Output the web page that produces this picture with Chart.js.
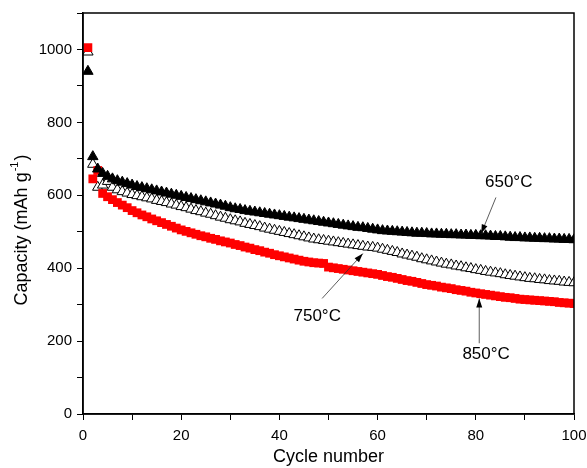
<!DOCTYPE html>
<html>
<head>
<meta charset="utf-8">
<script src="https://cdn.jsdelivr.net/npm/chart.js@4/dist/chart.umd.min.js"></script>
<style>
html,body{margin:0;padding:0;background:#fff;}
#wrap{width:587px;height:468px;position:relative;}
</style>
</head>
<body>
<div id="wrap"><canvas id="c" width="587" height="468"></canvas></div>
<script>
// Cycle numbers (x categories)
const cycles = Array.from({length: 100}, (_, i) => i + 1);

// Capacity (mAh g-1) for each sintering temperature
const cap650 = [940,706,672,660,652,645,640,636,632,628,
 624,621,618,615,612,609,606,603,600,597,
 594,591,588,585,582,579,576,573,570,566,
 563,561,558,556,554,552,550,548,546,544,
 542,540,538,536,534,532,530,528,526,524,
 522,520,518,516,514,512,511,509,507,505,
 503,502,501,500,499,498,497,496,496,495,
 494,494,493,493,492,492,491,491,490,490,
 489,489,488,487,487,486,485,484,484,483,
 483,482,482,481,481,480,480,479,479,478];

const cap750 = [993,685,622,628,638,622,615,610,606,602,
 599,596,593,590,586,583,580,576,573,569,
 566,562,558,555,551,548,544,540,537,533,
 530,527,523,520,517,514,510,507,504,501,
 498,495,492,489,486,483,480,478,476,474,
 472,470,468,466,464,462,460,458,457,455,
 452,449,446,443,439,436,433,430,426,423,
 420,417,414,411,409,406,404,401,399,396,
 394,391,389,387,385,382,380,378,376,374,
 372,371,369,368,366,365,364,362,361,360];

const cap850 = [1005,645,668,605,596,588,580,573,566,558,
 552,546,541,535,530,525,520,515,510,505,
 501,497,493,489,486,482,479,475,472,469,
 465,462,458,455,451,448,444,441,437,434,
 431,428,425,422,419,417,415,414,413,403,
 401,399,397,395,393,391,389,387,385,383,
 380,377,375,372,369,366,364,361,358,355,
 353,351,348,346,344,341,339,337,334,332,
 330,328,326,324,322,320,319,317,315,314,
 313,312,311,310,309,308,306,305,304,303];

const xTickLabels = [0,20,40,60,80,100];
const yTickLabels = [0,200,400,600,800,1000];

// Annotation labels and arrows (data units)
const annLabels = ["650°C","750°C","850°C"];
const annLabelPos = [[86.7,635],[47.7,268],[82.1,164]];
const annArrowTail = [[84.1,594],[48.7,317],[80.7,194]];
const annArrowHead = [[81.1,495],[57.0,440],[80.7,317]];

const toPts = arr => arr.map((v, i) => ({x: cycles[i], y: v}));
const FONT = "'Liberation Sans', Arial, sans-serif";

const framePlugin = {
  id: 'frame',
  afterDatasetsDraw(chart) {
    const {ctx, chartArea: a, scales} = chart;
    ctx.save();
    ctx.strokeStyle = '#000';
    ctx.lineWidth = 1.5;
    ctx.strokeRect(a.left, a.top, a.right - a.left, a.bottom - a.top);
    // annotations
    ctx.fillStyle = '#000';
    ctx.font = "17px " + FONT;
    ctx.textAlign = 'center';
    ctx.textBaseline = 'middle';
    for (let i = 0; i < annLabels.length; i++) {
      const lx = scales.x.getPixelForValue(annLabelPos[i][0]);
      const ly = scales.y.getPixelForValue(annLabelPos[i][1]);
      ctx.fillText(annLabels[i], lx, ly);
      const tx = scales.x.getPixelForValue(annArrowTail[i][0]);
      const ty = scales.y.getPixelForValue(annArrowTail[i][1]);
      const hx = scales.x.getPixelForValue(annArrowHead[i][0]);
      const hy = scales.y.getPixelForValue(annArrowHead[i][1]);
      ctx.lineWidth = 0.8;
      ctx.strokeStyle = '#333';
      ctx.beginPath(); ctx.moveTo(tx, ty); ctx.lineTo(hx, hy); ctx.stroke();
      const ang = Math.atan2(hy - ty, hx - tx);
      const L = 9, W = 3;
      ctx.beginPath();
      ctx.moveTo(hx, hy);
      ctx.lineTo(hx - L*Math.cos(ang) + W*Math.sin(ang), hy - L*Math.sin(ang) - W*Math.cos(ang));
      ctx.lineTo(hx - L*Math.cos(ang) - W*Math.sin(ang), hy - L*Math.sin(ang) + W*Math.cos(ang));
      ctx.closePath();
      ctx.fill();
    }
    // Y axis title with superscript
    ctx.translate(22, 231);
    ctx.rotate(-Math.PI / 2);
    ctx.textAlign = 'left';
    ctx.textBaseline = 'middle';
    const main = "Capacity (mAh g";
    const sup = "-1";
    const tail = ")";
    ctx.font = "18px " + FONT;
    const w1 = ctx.measureText(main).width;
    const w3 = ctx.measureText(tail).width;
    ctx.font = "11px " + FONT;
    const w2 = ctx.measureText(sup).width;
    let x0 = -(w1 + w2 + w3) / 2;
    ctx.font = "18px " + FONT;
    ctx.fillText(main, x0, 0);
    ctx.font = "11px " + FONT;
    ctx.fillText(sup, x0 + w1 + 1, -7);
    ctx.font = "18px " + FONT;
    ctx.fillText(tail, x0 + w1 + w2 + 2, 0);
    ctx.restore();
  }
};

new Chart(document.getElementById('c'), {
  type: 'scatter',
  data: {
    datasets: [
      {label: '650°C', data: toPts(cap650), pointStyle: 'triangle', pointRadius: 6,
       backgroundColor: '#000', borderColor: '#000', borderWidth: 1},
      {label: '850°C', data: toPts(cap850), pointStyle: 'rect', pointRadius: 6.2,
       backgroundColor: '#ff0000', borderColor: '#ff0000', borderWidth: 0},
      {label: '750°C', data: toPts(cap750), pointStyle: 'triangle', pointRadius: 6,
       backgroundColor: '#fff', borderColor: '#000', borderWidth: 1}
    ]
  },
  options: {
    responsive: false,
    animation: false,
    events: [],
    layout: {padding: {left: 0, right: 0, top: 13, bottom: 0}},
    plugins: {legend: {display: false}, tooltip: {enabled: false}},
    scales: {
      x: {
        type: 'linear', min: 0, max: 100,
        afterFit: s => { s.height = 54; s.paddingRight = 13; s.paddingLeft = 0; },
        border: {display: true, color: '#000', width: 1.5},
        grid: {drawOnChartArea: false, drawTicks: true, tickLength: 6, color: '#000', lineWidth: 1},
        ticks: {stepSize: 10, color: '#000', padding: 7, maxRotation: 0,
          font: {family: FONT, size: 15},
          callback: v => xTickLabels.includes(v) ? String(v) : ''},
        title: {display: true, text: 'Cycle number', color: '#000', font: {family: FONT, size: 18}, padding: {top: 0, bottom: 0}}
      },
      y: {
        type: 'linear', min: 0, max: 1100,
        afterFit: s => { s.width = 83; s.paddingTop = 0; s.paddingBottom = 0; },
        border: {display: true, color: '#000', width: 1.5},
        grid: {drawOnChartArea: false, drawTicks: true, tickLength: 6, color: '#000', lineWidth: 1},
        ticks: {stepSize: 100, color: '#000', padding: 5,
          font: {family: FONT, size: 15},
          callback: v => yTickLabels.includes(v) ? String(v) : ''},
        title: {display: false}
      }
    }
  },
  plugins: [framePlugin]
});
</script>
</body>
</html>
